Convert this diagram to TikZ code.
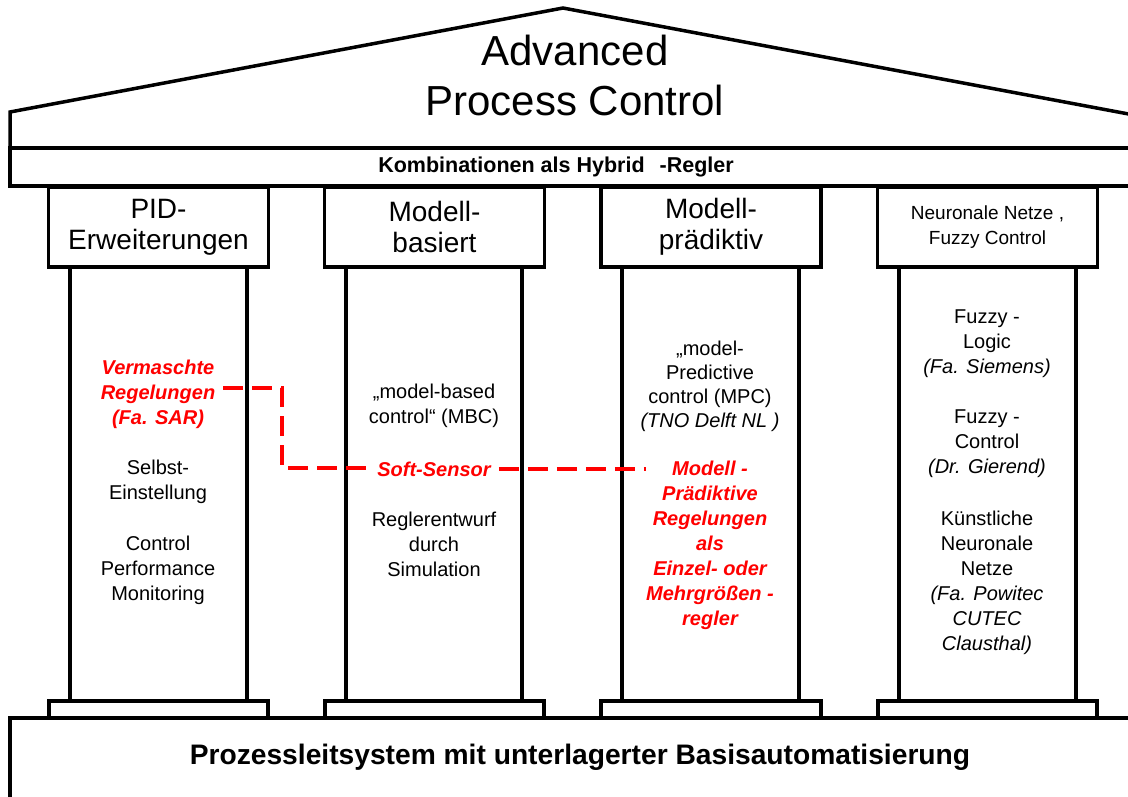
\documentclass[tikz,border=0pt]{standalone}
\usepackage{fontspec}
\setmainfont{Liberation Sans}
\begin{document}
\begin{tikzpicture}[x=1pt,y=-1pt,
  frame/.style={line width=3.5pt, line join=miter, line cap=rect},
  capital/.style={draw, line width=3.5pt, minimum width=220pt, minimum height=80pt,
    inner sep=0pt, align=center, font=\fontsize{28}{31}\selectfont},
  txt/.style={align=center, inner sep=0pt, font=\fontsize{20}{25}\selectfont},
  redtxt/.style={align=center, inner sep=0pt, text=red,
    font=\fontsize{20}{25}\selectfont\bfseries\itshape},
  link/.style={red, line width=3.5pt, dash pattern=on 20pt off 9pt},
]
\useasboundingbox (0,0) rectangle (1128,796);

\begin{scope}
\clip (0,0) rectangle (1128,796);
% roof, frieze and plinth
\draw[frame] (10,148) -- (10,112) -- (563,8) -- (1150,118);
\draw[frame] (10,148) -- (1150,148);
\draw[frame] (10,148) -- (10,186) -- (1150,186);
\draw[frame] (10,810) -- (10,718) -- (1150,718);

% columns: shafts and bases
\foreach \xl/\xr/\bl/\br in {70/247/49/268, 346/522/325/544, 622/799/601/821, 899/1076/878/1097}{
  \draw[frame] (\xl,267) -- (\xl,701);
  \draw[frame] (\xr,267) -- (\xr,701);
  \draw[frame] (\bl,718) -- (\bl,701) -- (\br,701) -- (\br,718);
}
\end{scope}

% title and frieze text
\node[inner sep=0pt, align=center, font=\fontsize{42}{50}\selectfont] (title) at (575,75)
  {Advanced\\Process Control};
\node[inner sep=0pt, font=\fontsize{21.5}{24}\selectfont\bfseries] (frieze) at (556,167)
  {Kombinationen als Hybrid\hspace{15pt}-Regler};
\node[inner sep=0pt, font=\fontsize{28.2}{31}\selectfont\bfseries] (plinth) at (580,757)
  {Prozessleitsystem mit unterlagerter Basisautomatisierung};

% capitals
\node[capital] (cap1) at (158.5,227) {PID-\\Erweiterungen};
\node[capital] (cap2) at (434.5,227) {Modell-\\basiert};
\node[capital] (cap3) at (711,227) {Modell-\\prädiktiv};
\node[capital, font=\fontsize{19}{25}\selectfont] (cap4) at (987.5,227) {Neuronale Netze ,\\Fuzzy Control};

% column 1
\node[redtxt] (verm) at (158,394) {Vermaschte\\Regelungen\\(Fa. SAR)};
\node[txt] (selbst) at (158,482) {Selbst-\\Einstellung};
\node[txt] (cpm) at (158,570) {Control\\Performance\\Monitoring};

% column 2
\node[txt] (mbc) at (434,406) {„model-based\\control“ (MBC)};
\node[redtxt] (soft) at (434,469) {Soft-Sensor};
\node[txt] (regl) at (434,544) {Reglerentwurf\\durch\\Simulation};

% column 3
\node[txt, font=\fontsize{20}{24}\selectfont] (mpc) at (710,386)
  {„model-\\Predictive\\control (MPC)\\{\itshape (TNO Delft NL )}};
\node[redtxt] (modell) at (710,545)
  {Modell -\\Prädiktive\\Regelungen\\als\\Einzel- oder\\Mehrgrößen -\\regler};

% column 4
\node[txt] (fuzzy1) at (987,344) {Fuzzy -\\Logic\\{\itshape (Fa. Siemens)}};
\node[txt] (fuzzy2) at (987,444) {Fuzzy -\\Control\\{\itshape (Dr. Gierend)}};
\node[txt] (knn) at (987,583)
  {Künstliche\\Neuronale\\Netze\\{\itshape (Fa. Powitec}\\{\itshape CUTEC}\\{\itshape Clausthal)}};

% red dashed links
\coordinate (bend) at (282,468);
\draw[link] ([xshift=8pt,yshift=6pt]verm.east) -| (bend) -- ([xshift=-8pt]soft.west |- bend);
\draw[link] ([xshift=8pt]soft.east) -- (soft.east -| modell.west);
\end{tikzpicture}
\end{document}
